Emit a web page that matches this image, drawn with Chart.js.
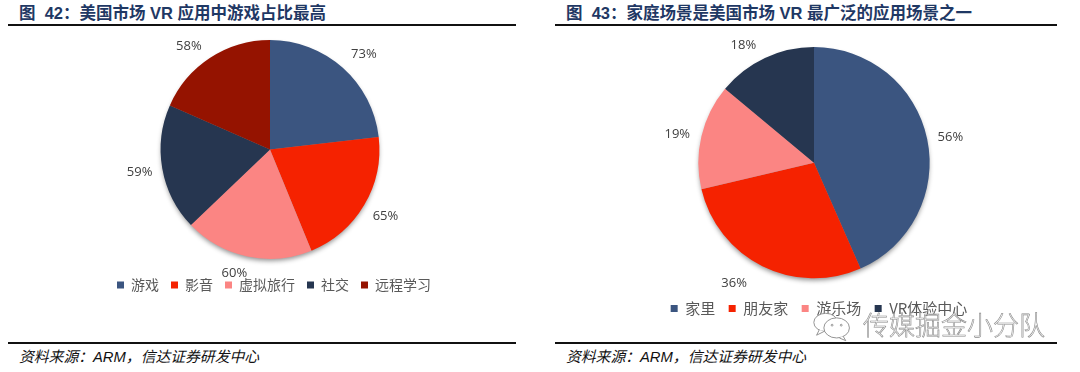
<!DOCTYPE html>
<html>
<head>
<meta charset="utf-8">
<script src="https://cdn.jsdelivr.net/npm/chart.js@4"></script>
<style>
html, body { margin: 0; padding: 0; background: #fff; }
#page { position: relative; width: 1080px; height: 372px; overflow: hidden; font-family: "Liberation Sans", "Noto Sans CJK SC", sans-serif; }
canvas { position: absolute; top: 0; }
.title { position: absolute; top: 2px; font-size: 16.5px; line-height: 22px; font-weight: 700; color: #1f3864; white-space: pre; }
.rule { position: absolute; height: 2px; background: #111; }
.source { position: absolute; top: 347px; font-size: 14.8px; line-height: 20px; font-style: italic; color: #111; white-space: pre; }
.mark { position: absolute; left: 863px; top: 306px; font-size: 26px; line-height: 36px; color: rgba(255,255,255,0.6); white-space: pre; font-weight: 300;
  -webkit-text-stroke: 0.6px #8a8a8a; font-family: "Noto Sans CJK SC"; }
svg { position: absolute; left: 812px; top: 310px; }
</style>
</head>
<body>
<div id="page">
  <div class="title" style="left:19px">图  42&#xFF1A;美国市场 VR 应用中游戏占比最高</div>
  <div class="title" style="left:566px">图  43&#xFF1A;家庭场景是美国市场 VR 最广泛的应用场景之一</div>
  <div class="rule" style="left:8px;width:508px;top:24px"></div>
  <div class="rule" style="left:555px;width:502px;top:24px"></div>
  <canvas id="usesChart" width="540" height="317" style="left:0"></canvas>
  <canvas id="placesChart" width="540" height="341" style="left:544px"></canvas>
  <div class="rule" style="left:8px;width:508px;top:342px"></div>
  <div class="rule" style="left:555px;width:502px;top:342px"></div>
  <div class="source" style="left:19px">资料来源&#xFF1A;ARM&#xFF0C;信达证券研发中心</div>
  <div class="source" style="left:566px">资料来源&#xFF1A;ARM&#xFF0C;信达证券研发中心</div>
  <svg width="42" height="34" viewBox="0 0 46 36" fill="#fff" stroke="#8a8a8a" stroke-width="1">
    <ellipse cx="15" cy="13" rx="13" ry="10"/>
    <path d="M8 21 L5 27 L13 23"/>
    <ellipse cx="27" cy="19" rx="14" ry="11"/>
    <path d="M34 28 L37 33 L30 30"/>
    <circle cx="22" cy="16" r="1"/><circle cx="32" cy="16" r="1"/>
  </svg>
  <div class="mark">传媒掘金小分队</div>
</div>
<script>
var usesLabels = ['游戏', '影音', '虚拟旅行', '社交', '远程学习'];
var usesValues = [73, 65, 60, 59, 58];
var usesColors = ['#3b5580', '#f52200', '#fb8583', '#263650', '#951300'];

var placesLabels = ['家里', '朋友家', '游乐场', 'VR体验中心'];
var placesValues = [56, 36, 19, 18];
var placesColors = ['#3b5580', '#f52200', '#fb8583', '#263650'];

// percent labels sit outside the slice, shadow goes under the whole pie
var piePlugin = {
    id: 'pieExtras',
    afterLayout: function (chart, args, opts) {
        chart.legend.left += opts.legendShift;
        chart.legend.right += opts.legendShift;
    },
    beforeDatasetsDraw: function (chart) {
        var arc = chart.getDatasetMeta(0).data[0];
        var c = chart.ctx;
        c.save();
        c.shadowColor = 'rgba(0,0,0,0.45)';
        c.shadowBlur = 5;
        c.shadowOffsetY = 3;
        c.fillStyle = '#888';
        c.beginPath();
        c.arc(arc.x, arc.y, arc.outerRadius - 1, 0, Math.PI * 2);
        c.fill();
        c.restore();
    },
    afterDatasetsDraw: function (chart, args, opts) {
        var c = chart.ctx;
        var values = chart.data.datasets[0].data;
        c.save();
        c.font = '13px "Open Sans"';
        c.fillStyle = '#404040';
        c.textAlign = 'center';
        c.textBaseline = 'middle';
        chart.getDatasetMeta(0).data.forEach(function (arc, i) {
            var mid = (arc.startAngle + arc.endAngle) / 2 + opts.turn[i] * Math.PI / 180;
            var r = arc.outerRadius + opts.gap[i];
            c.fillText(values[i] + '%', arc.x + Math.cos(mid) * r, arc.y + Math.sin(mid) * r);
        });
        c.restore();
    }
};

function makePie(id, labels, values, colors, padding, legendOpts, turn, gap) {
    return new Chart(document.getElementById(id).getContext('2d'), {
        type: 'pie',
        data: {
            labels: labels,
            datasets: [{ data: values, backgroundColor: colors, borderWidth: 0, hoverOffset: 0 }]
        },
        options: {
            responsive: false,
            animation: false,
            layout: { padding: padding },
            plugins: {
                tooltip: { enabled: false },
                pieExtras: { turn: turn, gap: gap, legendShift: legendOpts.shift },
                legend: {
                    position: 'bottom',
                    // blank title only pushes the legend away from the pie
                    title: { display: true, text: ' ', padding: legendOpts.spacer, font: { size: 1 } },
                    labels: {
                        boxWidth: 7,
                        boxHeight: 7,
                        padding: legendOpts.gap,
                        color: '#595959',
                        font: { family: '"Noto Sans CJK SC"', size: legendOpts.size }
                    }
                }
            }
        },
        plugins: [piePlugin]
    });
}

makePie('usesChart', usesLabels, usesValues, usesColors, { top: 40, bottom: 15 },
    { gap: 12, spacer: 3, size: 14, shift: 4 },
    [3, -0.5, 4, 0, -5], [24, 24, 20, 23, 22]);
makePie('placesChart', placesLabels, placesValues, placesColors, { top: 47, bottom: 15 },
    { gap: 13.5, spacer: 4, size: 15, shift: 5 },
    [1.5, 7, -1.5, -6], [23, 29, 24, 21]);
</script>
</body>
</html>
